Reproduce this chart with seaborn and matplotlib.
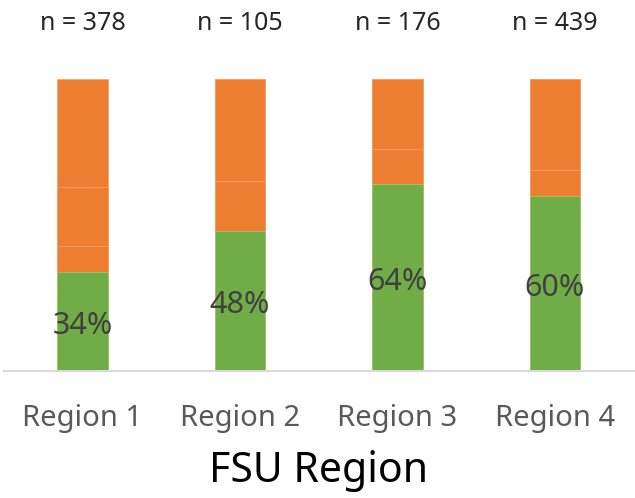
import matplotlib.pyplot as plt
import pandas as pd
import seaborn as sns

sns.set_style('white')
plt.rcParams['font.family'] = ['Noto Sans', 'DejaVu Sans']
plt.rcParams['font.weight'] = 'light'

# data
regions = ['Region 1', 'Region 2', 'Region 3', 'Region 4']
n_sizes = [378, 105, 176, 439]
green_pct = [34, 48, 64, 60]
orange_a = [9, 17, 12, 9]
orange_b = [20, 35, 24, 31]
orange_c = [37, 0, 0, 0]

df = pd.DataFrame({'region': regions, 'green': green_pct,
                   'a': orange_a, 'b': orange_b, 'c': orange_c})
df['top1'] = df['green'] + df['a']
df['top2'] = df['top1'] + df['b']
df['top3'] = df['top2'] + df['c']

fig = plt.figure(figsize=(6.35, 4.98), dpi=100)
ax = fig.add_axes([0.006, 0.255, 0.992, 0.586])

green = '#70AD47'
orange = '#ED7D31'
edge = '#F4A46C'

# stacked from the top down so lower layers cover upper ones
sns.barplot(data=df, x='region', y='top3', color=orange, width=0.32,
            edgecolor=edge, linewidth=0.5, saturation=1, ax=ax)
sns.barplot(data=df, x='region', y='top2', color=orange, width=0.32,
            edgecolor=edge, linewidth=0.5, saturation=1, ax=ax)
sns.barplot(data=df, x='region', y='top1', color=orange, width=0.32,
            edgecolor=edge, linewidth=0.5, saturation=1, ax=ax)
sns.barplot(data=df, x='region', y='green', color=green, width=0.32,
            edgecolor='#9CCB7E', linewidth=0.5, saturation=1, ax=ax)

for i, v in enumerate(green_pct):
    ax.text(i, v / 2 - 1.5, f'{v}%', ha='center', va='center', fontsize=22,
            color='#404040')
for i, n in enumerate(n_sizes):
    ax.text(i, 119, f'n = {n}', ha='center', va='center', fontsize=18,
            color='#262626', clip_on=False)

ax.set_xlim(-0.5, 3.5)
ax.set_ylim(0, 100)
ax.set_yticks([])
ax.set_ylabel('')
ax.set_xlabel('FSU Region', fontsize=29.5, color='black', labelpad=12,
              fontweight='normal')
ax.tick_params(axis='x', labelsize=21, labelcolor='#595959', length=0, pad=24)
for s in ['top', 'left', 'right']:
    ax.spines[s].set_visible(False)
ax.spines['bottom'].set_color('#D9D9D9')
ax.spines['bottom'].set_linewidth(1.5)

plt.savefig('out.png', dpi=100)
